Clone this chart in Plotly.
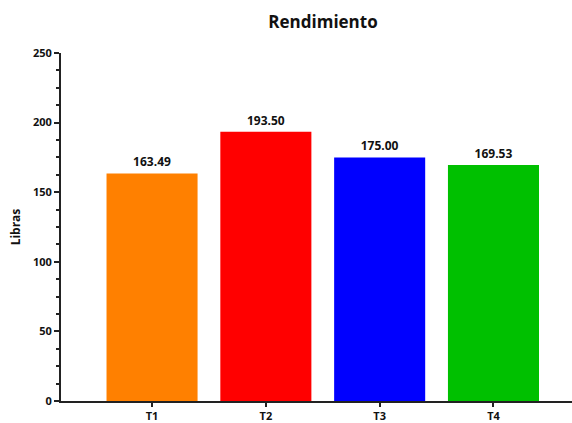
import plotly.graph_objects as go

categories = ["T1", "T2", "T3", "T4"]
values = [163.49, 193.50, 175.00, 169.53]
colors = ["#FF8000", "#FF0000", "#0000FF", "#00C000"]
labels = ["163.49", "193.50", "175.00", "169.53"]

fig = go.Figure(go.Bar(
    x=list(range(len(categories))), y=values,
    marker=dict(color=colors, line=dict(width=0)),
    width=0.8,
    text=labels, textposition="outside",
    textfont=dict(family="Open Sans", size=12, color="#111111", weight="bold"),
    cliponaxis=False,
))

fig.update_layout(
    width=572, height=423,
    margin=dict(l=61, r=0, t=53, b=22),
    paper_bgcolor="white", plot_bgcolor="white",
    showlegend=False,
    title=dict(text="<b>Rendimiento</b>", x=323/572, xanchor="center", y=1-22/423, yanchor="middle",
               font=dict(family="Open Sans", size=17, color="#111111")),
    font=dict(family="Open Sans", color="#111111"),
)
fig.update_xaxes(
    range=[-0.8, 3.69], tickmode="array", tickvals=list(range(len(categories))),
    ticktext=[f"<b>{c}</b>" for c in categories],
    showline=True, linecolor="#222222", linewidth=2,
    ticks="outside", ticklen=4, tickwidth=1.5, tickcolor="#222222",
    tickfont=dict(size=11), showgrid=False, zeroline=False, automargin=False,
)
fig.update_yaxes(
    range=[0, 250], tickvals=[0, 50, 100, 150, 200, 250],
    ticktext=["<b>0</b>", "<b>50</b>", "<b>100</b>", "<b>150</b>", "<b>200</b>", "<b>250</b>"],
    showline=True, linecolor="#222222", linewidth=2,
    ticks="outside", ticklen=5, tickwidth=1.5, tickcolor="#222222",
    minor=dict(tick0=0, dtick=12.5, ticks="outside", ticklen=3, tickwidth=1.5, tickcolor="#222222", showgrid=False),
    tickfont=dict(size=11), showgrid=False, zeroline=False, automargin=False,
    title=dict(text="<b>Libras</b>", font=dict(size=12), standoff=10),
)

fig.write_html("out.html")
